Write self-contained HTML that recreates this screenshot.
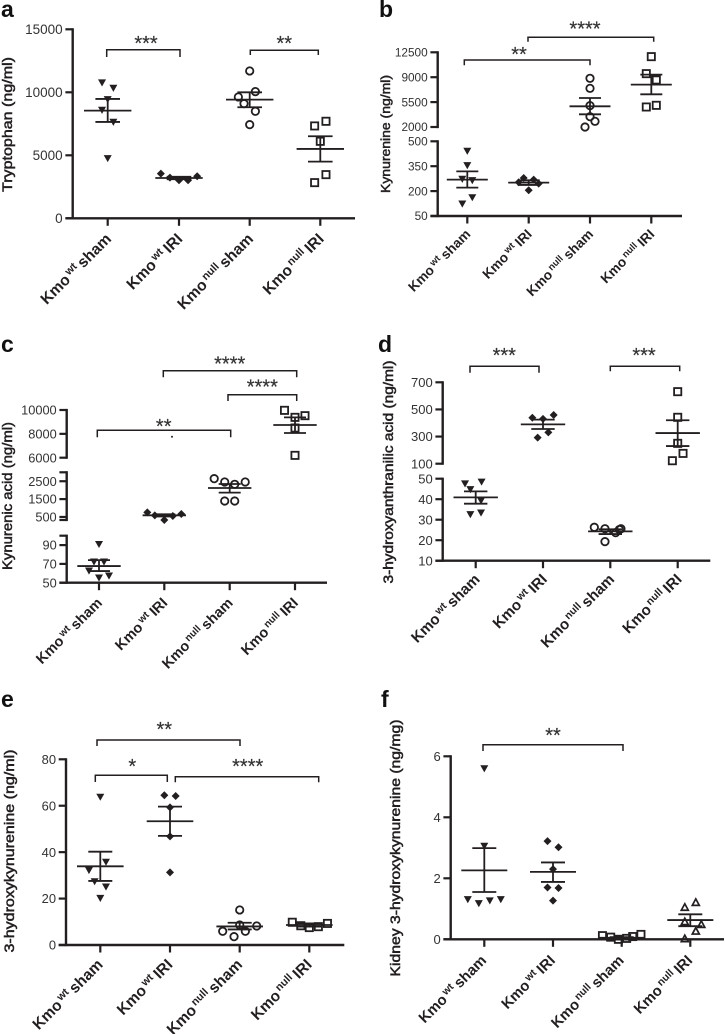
<!DOCTYPE html>
<html lang="en">
<head>
<meta charset="utf-8">
<title>Kynurenine pathway metabolites</title>
<style>
html,body{margin:0;padding:0;background:#fff;}
svg{display:block;font-family:"Liberation Sans",sans-serif;}
</style>
</head>
<body>
<svg id="figure" xmlns="http://www.w3.org/2000/svg" width="725" height="1034" viewBox="0 0 725 1034"></svg>
<script>
const catSup = ['wt', 'wt', 'null', 'null'];
const catSuffix = ['sham', 'IRI', 'sham', 'IRI'];

/* panel a */
const aTicks = [0, 5000, 10000, 15000];
const aValues = [[10770, 10345, 9446, 8600, 7647, 4763], [3546, 3228, 3016, 3016, 3334], [11695, 10055, 9631, 9102, 8494, 7435], [7700, 7330, 6112, 3466, 2831]];
const aSwarm = [[-1, 1, 0, -1, 1, 0], [-3.2, -1.6, 0, 1.6, 3.2], [0, 1, -2, -1, 1, 0], [1, -1, 0, 1, -1]];
const aMeans = [8547, 3200, 9420, 5504];
const aUpper = [9473, 3300, 10000, 6509];
const aLower = [7647, 3100, 8811, 4498];

/* panel b */
const bTicksUpper = [2000, 5500, 9000, 12500];
const bTicksLower = [50, 200, 350, 500];
const bValues = [[442, 355, 273, 265, 162, 124], [279, 269, 253, 245, 205], [8844, 7437, 5000, 3453, 2797, 2000], [11890, 9500, 8610, 5047, 4812]];
const bSwarm = [[0, 0, -1, 1, 1, -1], [-1, 1, -2, 2, 0], [0, 0, 0, 0, 1, -1], [0, -1, 1, 1, -1]];
const bMeans = [269, 251, 4906, 7953];
const bUpper = [319, 265, 6078, 9360];
const bLower = [221, 237, 3781, 6594];

/* panel c */
const cTicksUpper = [6000, 8000, 10000];
const cTicksMiddle = [500, 1500, 2500];
const cTicksLower = [50, 70, 90];
const cValues = [[91, 72.3, 72.3, 62.7, 55.3, 57.4], [759, 591, 330, 554, 666], [2645, 2458, 2328, 2458, 1394, 1394], [9972, 9384, 9524, 8490, 6196]];
const cSwarm = [[0, -1, 1, -2, 0, 2], [-3.4, -1.9, 0, 1.7, 3.4], [-3.1, -1, 1, 3.1, -1, 1], [-2.1, 0, 2, 0, 0]];
const cMeans = [67.7, 591, 2122, 8741];
const cUpper = [74, 650, 2346, 9384];
const cLower = [62.4, 530, 1861, 8070];

/* panel d */
const dTicksUpper = [100, 300, 500, 700];
const dTicksLower = [10, 20, 30, 40, 50];
const dValues = [[47.6, 48.5, 44.8, 39.3, 32.6, 33.4], [439, 459, 430, 331, 292], [26.3, 25.6, 23.7, 25.6, 25.2, 19.3], [631, 442, 250, 176, 122]];
const dSwarm = [[-2, 1.1, -1, 1, -1, 1], [-2, 2, 0, 1, -1], [-3, -1, 1, 2, 1.7, -1], [0, 0, 0, 1, -1]];
const dMeans = [40.9, 390, 24.3, 326];
const dUpper = [43.8, 425, 25.3, 420];
const dLower = [37.8, 356, 23, 230];

/* panel e */
const eTicks = [0, 20, 40, 60, 80];
const eValues = [[63.8, 35.8, 32.2, 27.4, 25.1, 20.2], [64.5, 64.2, 59.3, 46.8, 31.3], [15.1, 8.6, 8.2, 5.9, 5.9, 3.6], [9.8, 8.3, 7.5, 7.9, 9.3]];
const eSwarm = [[0, 1, -2, -1, 1, 0], [-1, 1, 0, 0, 0], [0, 0, 3, -3, 1, -1], [-3, -1.5, 0, 1.6, 3.2]];
const eMeans = [33.9, 53.3, 8, 8.6];
const eUpper = [40.2, 59.6, 9.6, 9.3];
const eLower = [27.6, 47, 6.7, 7.9];

/* panel f */
const fTicks = [0, 2, 4, 6];
const fValues = [[5.6, 3.06, 1.31, 1.18, 1.27, 1.31], [3.22, 3.02, 2.3, 1.7, 1.68, 1.27], [0.12, 0.07, 0, 0.03, 0.09, 0.16], [1.21, 1.05, 0.58, 0.49, 0.27, 0.02]];
const fSwarm = [[0, 0, -3, -1, 1, 3], [-1, 1, 0, -1, 1, 0], [-3.5, -2, -0.6, 0.9, 2, 3.5], [1, -1, -1, 2, 1, -1]];
const fMeans = [2.26, 2.21, 0.05, 0.63];
const fUpper = [2.99, 2.52, 0.07, 0.82];
const fLower = [1.55, 1.88, 0.03, 0.43];

const INK = '#231f20';
const NS = 'http://www.w3.org/2000/svg';
const root = document.getElementById('figure');

function make(parent, tag, attrs, name) {
  const el = document.createElementNS(NS, tag);
  for (const k in attrs) el.setAttribute(k, attrs[k]);
  
  
  parent.appendChild(el);
  return el;
}
function line(parent, x1, y1, x2, y2, w, name) {
  return make(parent, 'line', {x1: x1, y1: y1, x2: x2, y2: y2, stroke: INK, 'stroke-width': w}, name);
}
function linearScale(domain, range) {
  return function (v) {
    return range[0] + (v - domain[0]) * (range[1] - range[0]) / (domain[1] - domain[0]);
  };
}
function marker(parent, shape, x, y, name) {
  if (shape === 'down') {
    make(parent, 'polygon', {points: (x - 4) + ',' + (y - 3.2) + ' ' + (x + 4) + ',' + (y - 3.2) + ' ' + x + ',' + (y + 3.9), fill: INK}, name);
  } else if (shape === 'diamond') {
    make(parent, 'polygon', {points: x + ',' + (y - 4) + ' ' + (x + 4) + ',' + y + ' ' + x + ',' + (y + 4) + ' ' + (x - 4) + ',' + y, fill: INK}, name);
  } else if (shape === 'circle') {
    make(parent, 'circle', {cx: x, cy: y, r: 3.7, fill: 'none', stroke: INK, 'stroke-width': 1.8}, name);
  } else if (shape === 'square') {
    make(parent, 'rect', {x: x - 3.6, y: y - 3.6, width: 7.2, height: 7.2, fill: 'none', stroke: INK, 'stroke-width': 1.8}, name);
  } else {
    make(parent, 'polygon', {points: (x - 3.5) + ',' + (y + 3) + ' ' + (x + 3.5) + ',' + (y + 3) + ' ' + x + ',' + (y - 3.5), fill: 'none', stroke: INK, 'stroke-width': 1.7}, name);
  }
}
function drawBracket(parent, x1, x2, top, bottom, stars, sx, sy) {
  make(parent, 'polyline', {points: x1 + ',' + bottom + ' ' + x1 + ',' + top + ' ' + x2 + ',' + top + ' ' + x2 + ',' + bottom, fill: 'none', stroke: INK, 'stroke-width': 1.5}, 'significance-bracket');
  const t = make(parent, 'text', {x: sx, y: sy + 9.5, 'text-anchor': 'middle', 'font-size': 20, fill: '#333', stroke: '#333', 'stroke-width': 0.2}, 'significance-stars');
  t.textContent = stars;
}

function drawPanel(p) {
  const g = make(root, 'g', {}, 'panel-' + p.id);
  const letter = make(g, 'text', {x: p.letter[0], y: p.letter[1], 'font-size': 23, 'font-weight': 'bold', fill: '#111'}, 'panel-' + p.id + '-letter');
  letter.textContent = p.id;

  const bottomY = p.segments[p.segments.length - 1].range[0];
  const scales = p.segments.map(function (s) { return linearScale(s.domain, s.range); });

  /* y axis */
  p.segments.forEach(function (s, i) {
    const sc = scales[i];
    line(g, p.axisX, s.range[0] + 1.1, p.axisX, s.range[1] - 1.1, 2.4, 'y-axis-line');
    s.ticks.forEach(function (v) {
      line(g, p.axisX - 7.3, sc(v), p.axisX, sc(v), 2.2, 'y-axis-tick');
      const t = make(g, 'text', {x: p.axisX - 10, y: sc(v) + p.tickFont * 0.36, 'text-anchor': 'end', 'font-size': p.tickFont, fill: '#333'}, 'y-tick-label');
      t.textContent = String(v);
    });
    (s.caps || []).forEach(function (v) {
      line(g, p.axisX - 7.3, sc(v), p.axisX, sc(v), 2.2, 'y-axis-end-cap');
    });
  });

  /* y title */
  const title = make(g, 'text', {
    transform: 'translate(' + p.titleX + ',' + p.titleY + ') rotate(-90)',
    'text-anchor': 'middle', 'font-size': p.titleFont, fill: INK, stroke: INK, 'stroke-width': 0.5,
    textLength: p.titleLength, lengthAdjust: 'spacingAndGlyphs'
  }, 'y-axis-title');
  title.textContent = p.title;

  /* x axis */
  line(g, p.axisX - 7.3, bottomY, p.xEnd, bottomY, 2.4, 'x-axis-line');
  p.catX.forEach(function (cx, i) {
    line(g, cx, bottomY, cx, bottomY + 7.5, 2.2, 'x-axis-tick');
    const t = make(g, 'text', {
      transform: 'translate(' + (cx + p.labelDx) + ',' + (bottomY + p.labelDy) + ') rotate(-45)',
      'text-anchor': 'end', 'font-size': p.labelFont, 'font-weight': 'bold', fill: INK
    }, 'x-tick-label');
    const a = make(t, 'tspan', {}, 'x-label-stem');
    a.textContent = 'Kmo';
    const b = make(t, 'tspan', {dx: 2, dy: -p.labelFont * 0.33, 'font-size': p.labelFont * 0.7}, 'x-label-genotype');
    b.textContent = catSup[i];
    const c = make(t, 'tspan', {dx: 3, dy: p.labelFont * 0.33}, 'x-label-treatment');
    c.textContent = catSuffix[i];
  });

  /* series */
  p.values.forEach(function (vals, i) {
    const sc = scales[p.groupSegment[i]];
    const cx = p.catX[i];
    const s = make(g, 'g', {}, 'panel-' + p.id + '-series-' + (i + 1));
    vals.forEach(function (v, j) {
      marker(s, p.shapes[i], cx + p.swarm[i][j] * p.slot, sc(v), 'data-point');
    });
    line(s, cx - p.meanHalf, sc(p.means[i]), cx + p.meanHalf, sc(p.means[i]), 1.8, 'mean-line');
    line(s, cx, sc(p.upper[i]), cx, sc(p.lower[i]), 1.8, 'error-bar-stem');
    line(s, cx - p.semHalf, sc(p.upper[i]), cx + p.semHalf, sc(p.upper[i]), 1.8, 'error-bar-upper-cap');
    line(s, cx - p.semHalf, sc(p.lower[i]), cx + p.semHalf, sc(p.lower[i]), 1.8, 'error-bar-lower-cap');
  });

  p.brackets.forEach(function (b) {
    drawBracket(g, b[0], b[1], b[2], b[3], b[4], b[5], b[6]);
  });
  return g;
}

const SHAPES = ['down', 'diamond', 'circle', 'square'];

drawPanel({
  id: 'a', letter: [1, 17], axisX: 72.7, xEnd: 355, catX: [107.7, 179, 249.7, 320.3],
  segments: [{domain: [0, 15000], range: [218.3, 29.3], ticks: aTicks}],
  groupSegment: [0, 0, 0, 0], shapes: SHAPES, values: aValues, swarm: aSwarm, slot: 5.67,
  means: aMeans, upper: aUpper, lower: aLower, meanHalf: 23.7, semHalf: 12.3,
  tickFont: 13.5, labelFont: 15.6, labelDx: 4.5, labelDy: 21.5,
  title: 'Tryptophan (ng/ml)', titleX: 12, titleY: 124.5, titleFont: 14, titleLength: 135,
  brackets: [[106.7, 180, 49.7, 57, '***', 146, 40.7], [250.3, 318.3, 50.3, 55, '**', 284.3, 40.7]]
});

drawPanel({
  id: 'b', letter: [379, 17], axisX: 437.7, xEnd: 682, catX: [467.3, 528.7, 590, 651.3],
  segments: [
    {domain: [2000, 12500], range: [127, 52.3], ticks: bTicksUpper},
    {domain: [50, 500], range: [216, 141.3], ticks: bTicksLower}
  ],
  groupSegment: [1, 1, 0, 0], shapes: SHAPES, values: bValues, swarm: bSwarm, slot: 5,
  means: bMeans, upper: bUpper, lower: bLower, meanHalf: 20.5, semHalf: 11,
  tickFont: 11.8, labelFont: 13.6, labelDx: 4, labelDy: 19,
  title: 'Kynurenine (ng/ml)', titleX: 390, titleY: 134, titleFont: 12.5, titleLength: 118,
  brackets: [[464.3, 590, 60, 65.3, '**', 519, 51.7], [528, 653.7, 37.3, 41.7, '****', 585, 26]]
});

drawPanel({
  id: 'c', letter: [1, 352], axisX: 66.7, xEnd: 327, catX: [99, 164.3, 229.7, 295],
  segments: [
    {domain: [6000, 10000], range: [457.7, 410], ticks: cTicksUpper},
    {domain: [330, 3000], range: [520, 472.3], ticks: cTicksMiddle, caps: [330, 3000]},
    {domain: [50, 100], range: [582.7, 535.7], ticks: cTicksLower, caps: [100]}
  ],
  groupSegment: [2, 1, 1, 0], shapes: SHAPES, values: cValues, swarm: cSwarm, slot: 5,
  means: cMeans, upper: cUpper, lower: cLower, meanHalf: 21.7, semHalf: 11,
  tickFont: 12.8, labelFont: 14.5, labelDx: 4, labelDy: 21,
  title: 'Kynurenic acid (ng/ml)', titleX: 12, titleY: 496, titleFont: 13.5, titleLength: 148,
  brackets: [[97.3, 230.7, 430.3, 437.3, '**', 163.7, 423.3], [163.3, 296.7, 370.7, 377.3, '****', 229.7, 361], [228, 296.7, 394.7, 401, '****', 262.3, 384]]
});
make(root, 'circle', {cx: 172, cy: 436.7, r: 1, fill: INK}, 'stray-dot');

drawPanel({
  id: 'd', letter: [378, 352], axisX: 442.7, xEnd: 710.3, catX: [475.7, 543, 610.3, 677.7],
  segments: [
    {domain: [100, 700], range: [463.7, 382.3], ticks: dTicksUpper},
    {domain: [10, 50], range: [560.7, 478.7], ticks: dTicksLower}
  ],
  groupSegment: [1, 0, 1, 0], shapes: SHAPES, values: dValues, swarm: dSwarm, slot: 5.33,
  means: dMeans, upper: dUpper, lower: dLower, meanHalf: 22.2, semHalf: 11.7,
  tickFont: 13, labelFont: 15.1, labelDx: 5, labelDy: 19.5,
  title: '3-hydroxyanthranilic acid (ng/ml)', titleX: 393, titleY: 472, titleFont: 13.5, titleLength: 223,
  brackets: [[470, 539, 366.3, 372.7, '***', 504.3, 352.7], [610.3, 679.7, 366.3, 371.3, '***', 644, 352.7]]
});

drawPanel({
  id: 'e', letter: [1, 707], axisX: 66, xEnd: 344.3, catX: [100.3, 170, 239.7, 309.3],
  segments: [{domain: [0, 80], range: [945, 759.3], ticks: eTicks}],
  groupSegment: [0, 0, 0, 0], shapes: SHAPES, values: eValues, swarm: eSwarm, slot: 5.67,
  means: eMeans, upper: eUpper, lower: eLower, meanHalf: 23.3, semHalf: 12,
  tickFont: 12.9, labelFont: 15.5, labelDx: 3.5, labelDy: 20.5,
  title: '3-hydroxykynurenine (ng/ml)', titleX: 14, titleY: 851, titleFont: 13.5, titleLength: 203,
  brackets: [[97, 240, 740, 746, '**', 164.3, 726.7], [95.3, 167.3, 775.3, 782, '*', 132.3, 763.3], [175.3, 318.7, 776.7, 782.3, '****', 247.7, 763.3]]
});

drawPanel({
  id: 'f', letter: [381, 707], axisX: 450.7, xEnd: 724, catX: [484.3, 553, 621.7, 690.3],
  segments: [{domain: [0, 6], range: [939.3, 756.3], ticks: fTicks}],
  groupSegment: [0, 0, 0, 0], shapes: ['down', 'diamond', 'square', 'up'], values: fValues, swarm: fSwarm, slot: 5.5,
  means: fMeans, upper: fUpper, lower: fLower, meanHalf: 23, semHalf: 12,
  tickFont: 13, labelFont: 14.9, labelDx: 3, labelDy: 22,
  title: 'Kidney 3-hydroxykynurenine (ng/mg)', titleX: 400, titleY: 848, titleFont: 14, titleLength: 257,
  brackets: [[483, 623, 744.7, 751, '**', 553, 732.3]]
});
</script>
</body>
</html>
